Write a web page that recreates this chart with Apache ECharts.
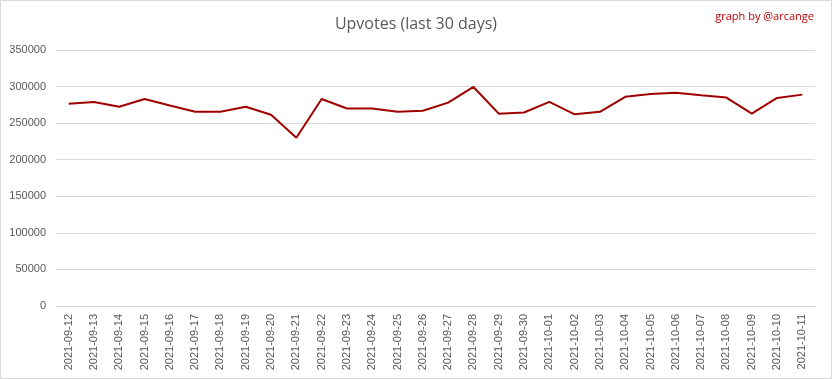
<!DOCTYPE html>
<html><head><meta charset="utf-8">
<script src="https://cdn.jsdelivr.net/npm/echarts@6/dist/echarts.min.js"></script>
<style>html,body{margin:0;padding:0;background:#fff}#c{width:832px;height:379px}</style>
</head><body><div id="c"></div>
<script>
const categories = ["2021-09-12","2021-09-13","2021-09-14","2021-09-15","2021-09-16","2021-09-17","2021-09-18","2021-09-19","2021-09-20","2021-09-21","2021-09-22","2021-09-23","2021-09-24","2021-09-25","2021-09-26","2021-09-27","2021-09-28","2021-09-29","2021-09-30","2021-10-01","2021-10-02","2021-10-03","2021-10-04","2021-10-05","2021-10-06","2021-10-07","2021-10-08","2021-10-09","2021-10-10","2021-10-11"];
const upvotes = [276500,279000,272500,283000,274000,265500,265500,272500,261500,230000,283000,270000,270000,265500,267000,278000,299500,263000,264500,279000,262000,265500,286000,290000,291500,288000,285000,263000,284500,289000];
const chart = echarts.init(document.getElementById('c'));
chart.setOption({
  backgroundColor:'#fff',
  animation:false,
  title:[{text:'Upvotes (last 30 days)',left:'center',top:11,textStyle:{fontFamily:'Open Sans',fontSize:16,fontWeight:'normal',color:'#595959'}},
         {text:'graph by @arcange',right:13,top:6,textStyle:{fontFamily:'Open Sans',fontSize:11,fontWeight:'normal',color:'#c00000'}}],
  grid:{left:56,right:17,top:50,bottom:73},
  xAxis:{type:'category',data:categories,boundaryGap:true,
    axisLine:{lineStyle:{color:'#d9d9d9'}},axisTick:{show:false},
    axisLabel:{rotate:90,color:'#595959',fontFamily:'Liberation Sans',fontSize:11,interval:0,margin:8}},
  yAxis:{type:'value',min:0,max:350000,interval:50000,
    axisLine:{show:false},axisTick:{show:false},
    splitLine:{lineStyle:{color:'#d9d9d9'}},
    axisLabel:{color:'#595959',fontFamily:'Liberation Sans',fontSize:11,margin:10,formatter:v=>String(v)}},
  series:[{type:'line',data:upvotes,symbol:'none',lineStyle:{color:'#a00000',width:2},itemStyle:{color:'#a00000'}}],
  graphic:[{type:'rect',shape:{x:0.5,y:0.5,width:831,height:378},style:{fill:'none',stroke:'#d9d9d9',lineWidth:1},silent:true}]
});
</script></body></html>
